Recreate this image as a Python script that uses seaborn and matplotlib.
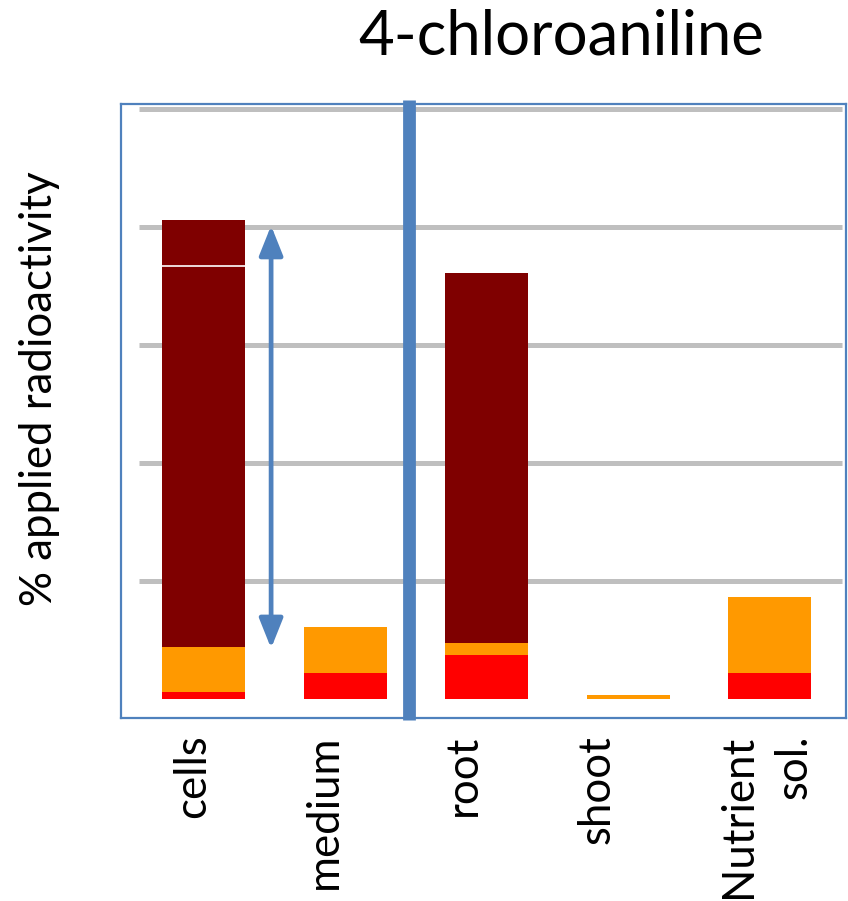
import numpy as np
import pandas as pd
import seaborn as sns
import matplotlib.pyplot as plt
from matplotlib.transforms import ScaledTranslation

# data (% applied radioactivity)
categories = ["cells", "medium", "root", "shoot", "Nutrient\nsol."]
red_part = [1.2, 4.4, 7.5, 0.0, 4.4]
orange_part = [7.6, 7.8, 2.0, 0.7, 12.9]
bound_part = [64.6, 0.0, 62.7, 0.0, 0.0]
bound_top = [7.8, 0.0, 0.0, 0.0, 0.0]
grid_values = [20, 40, 60, 80, 100]

dark_red = "#7F0000"
orange = "#FF9900"
red = "#FF0000"
blue = "#4F81BD"

sns.set_theme(style="white")
plt.rcParams["font.family"] = ["Lato", "DejaVu Sans"]
plt.rcParams["text.color"] = "black"
plt.rcParams["xtick.color"] = "black"

df = pd.DataFrame({"cat": categories, "red": red_part, "orange": orange_part,
                   "bound": bound_part, "top": bound_top})
df["c1"] = df["red"]
df["c2"] = df["c1"] + df["orange"]
df["c3"] = df["c2"] + df["bound"]
df["c4"] = df["c3"] + df["top"]

fig = plt.figure(figsize=(8.48, 9.01), dpi=100)
ax = fig.add_axes([0.1427, 0.2031, 0.8549, 0.6815])

bw = 0.586
# stacked bars drawn as overlapping cumulative layers
for col, colr in [("c4", dark_red), ("c3", dark_red), ("c2", orange), ("c1", red)]:
    sns.barplot(data=df, x="cat", y=col, color=colr, saturation=1, width=bw,
                linewidth=0, ax=ax, zorder=3)

# thin white line between the two dark segments
for i in range(len(categories)):
    if df["top"][i] > 0:
        ax.hlines(df["c3"][i], i - bw / 2, i + bw / 2, color="white", lw=1.2, zorder=4)

# grey gridlines
ax.hlines(grid_values, -0.456, 4.509, color="#BFBFBF", lw=3.6, zorder=1)

# blue separator between cell culture and plant
ax.axvline(1.449, ymin=-0.003, ymax=1.006, color=blue, lw=9.2, zorder=5,
           clip_on=False, solid_capstyle="butt")

# double arrow over the bound fraction of cells
ax.annotate("", xy=(0.477, df["c4"][0] - 1.0), xytext=(0.477, df["c2"][0] - 0.2),
            arrowprops=dict(arrowstyle="<|-|>,head_length=0.45,head_width=0.18",
                            mutation_scale=40, color=blue, lw=3.4,
                            shrinkA=0, shrinkB=0), zorder=6)

ax.set_xlim(-0.583, 4.537)
ax.set_ylim(-3.2, 100.8)
ax.set_yticks([])
ax.set_xlabel("")
ax.set_ylabel("")
for s in ax.spines.values():
    s.set_color(blue)
    s.set_linewidth(1.6)
    s.set_visible(True)

ax.set_xticks(range(len(categories)))
ax.set_xticklabels(categories, rotation=90, fontsize=31.5, va="top", ha="center",
                   multialignment="right", linespacing=1.45, color="black")
ax.tick_params(axis="x", length=0, pad=12)
offsets = [-11, -21, -23, -31, -4]
for lbl, dx in zip(ax.get_xticklabels(), offsets):
    lbl.set_transform(lbl.get_transform() + ScaledTranslation(dx / 100, 0, fig.dpi_scale_trans))

fig.text(0.6616, 0.939, "4-chloroaniline", fontsize=44.5, ha="center", va="baseline",
         color="black")
fig.text(0.047, 0.569, "% applied radioactivity", fontsize=31.5, rotation=90,
         ha="center", va="center", color="black")

plt.savefig("out.png", dpi=100)
